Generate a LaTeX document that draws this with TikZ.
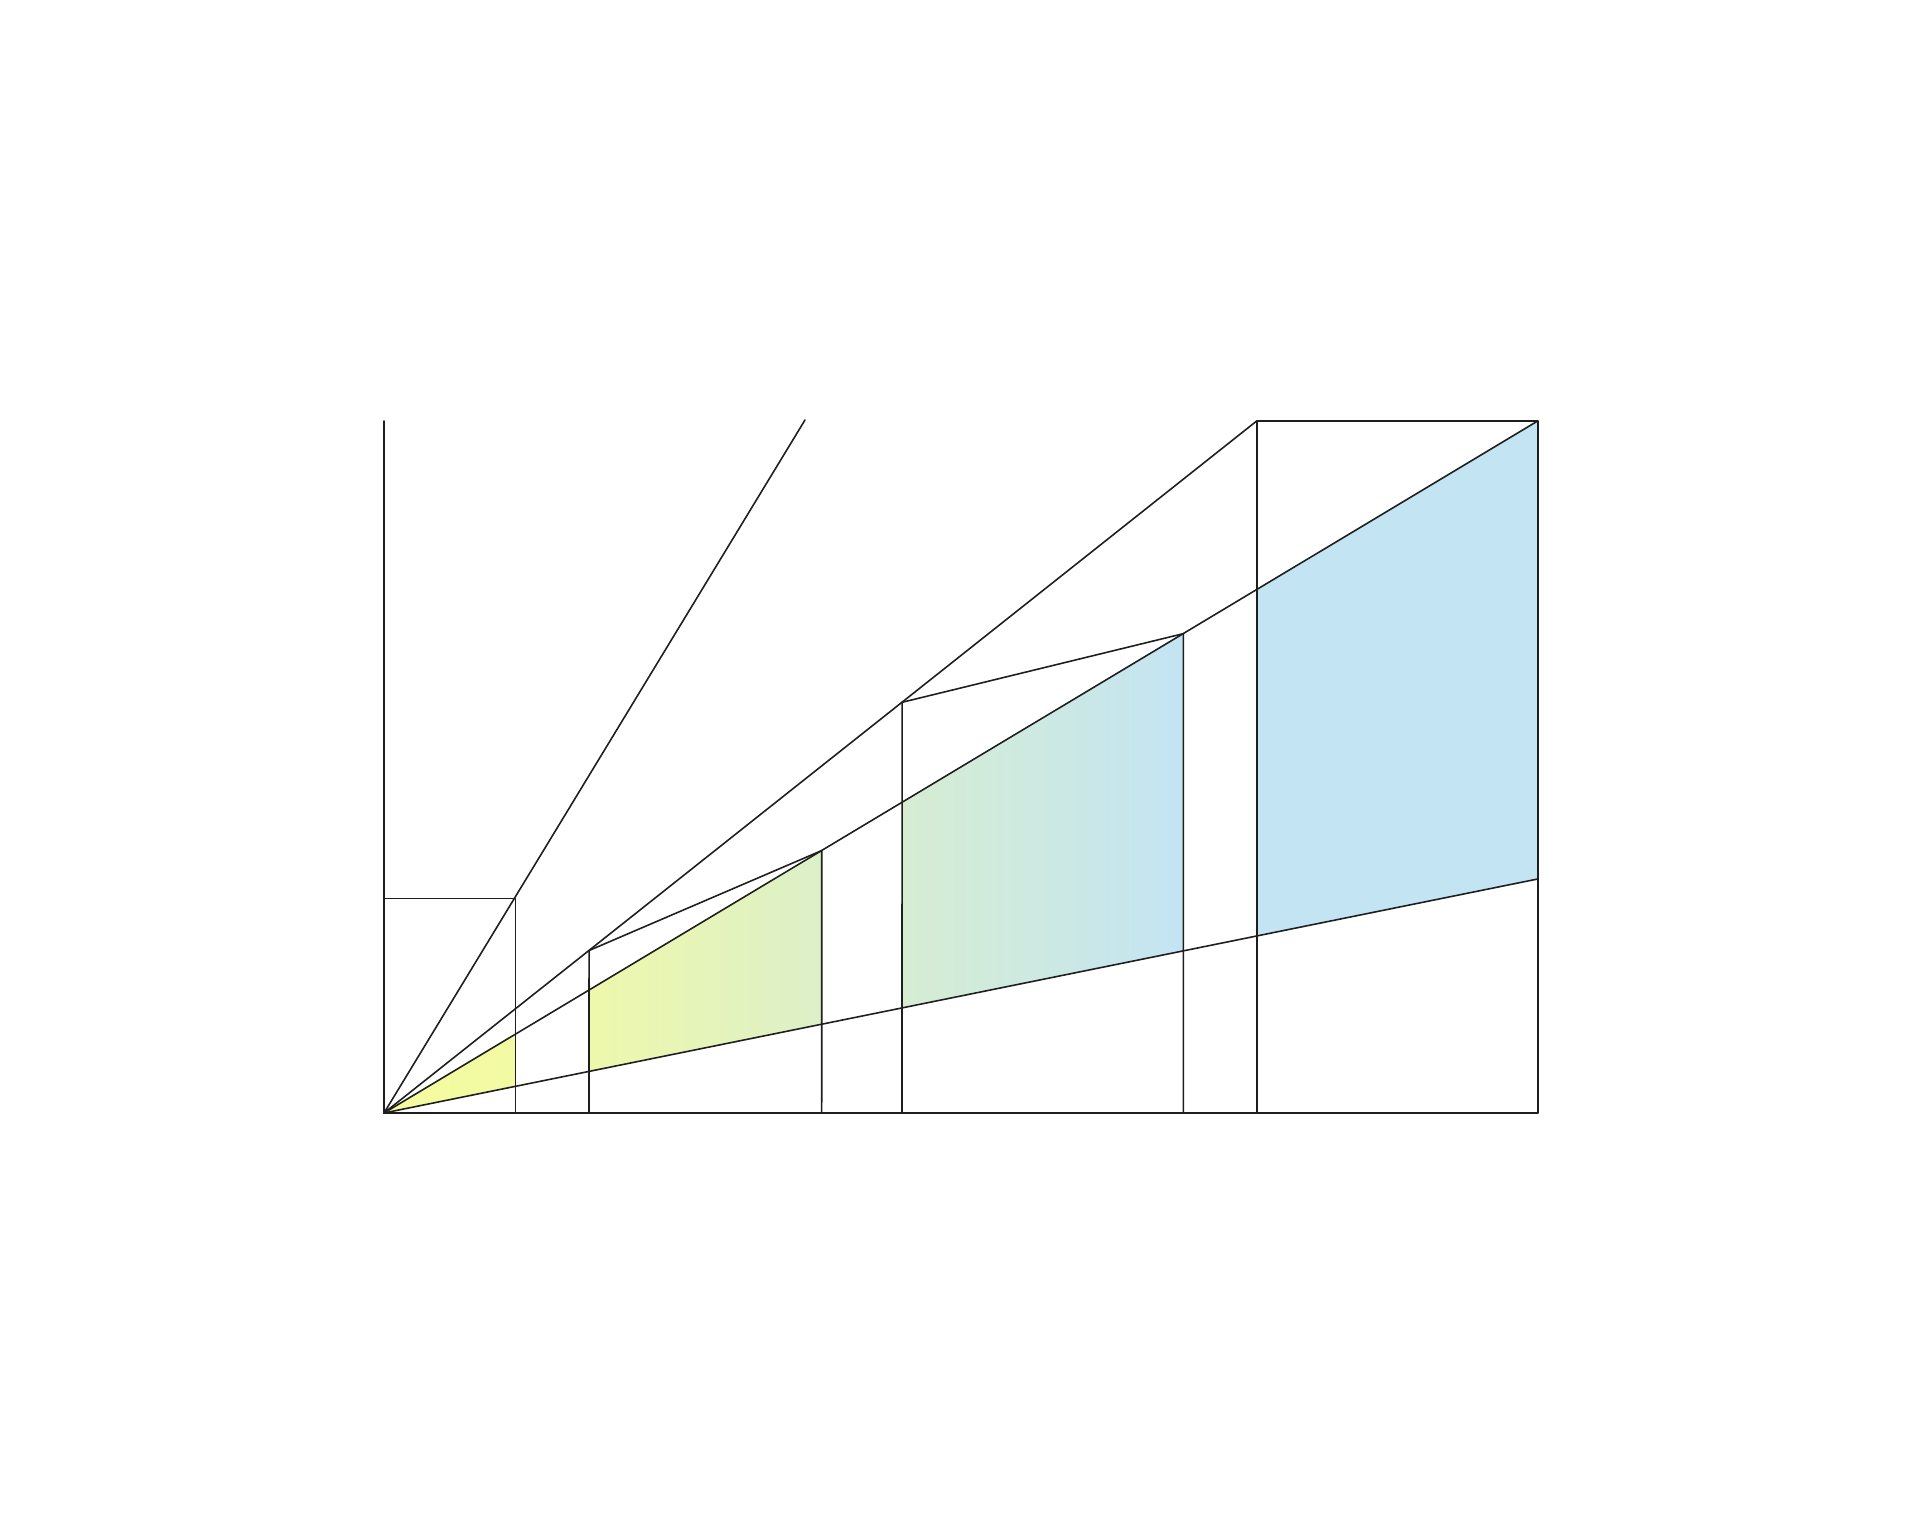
\documentclass[tikz,border=0pt]{standalone}
\usetikzlibrary{calc}
\definecolor{yel}{RGB}{245,252,158}
\definecolor{blu}{RGB}{195,228,243}
\definecolor{mixA}{RGB}{242,250,164}
\definecolor{mixB}{RGB}{238,248,171}
\definecolor{mixC}{RGB}{220,240,200}
\definecolor{mixD}{RGB}{214,237,210}
\definecolor{ink}{RGB}{30,30,30}
\begin{document}
\begin{tikzpicture}[x=0.01cm,y=-0.01cm,
  edge/.style={draw=ink,line width=0.45pt,line cap=round,line join=round}]
\useasboundingbox (0,0) rectangle (1920,1534);
% key points
\coordinate (O) at (384,1113);
\coordinate (V) at (384,421);
\coordinate (S) at (805,420);
\coordinate (B1) at (515.7,898.3);
\coordinate (B1L) at (384,898.3);
\coordinate (T4L) at (1256.7,421);
\coordinate (T4R) at (1537.7,421);
\coordinate (E) at (1537.7,879);
\coordinate (G) at (1537.7,1113);
% points on the rays at each vertical
\foreach \n/\x in {a/515.7,b/589,c/821.7,d/902,e/1183.3,f/1256.7} {
  \coordinate (\n-base) at (\x,1113);
  \coordinate (\n-two) at (intersection cs: first line={(O)--(T4L)}, second line={(\x,0)--(\x,1534)});
  \coordinate (\n-three) at (intersection cs: first line={(O)--(T4R)}, second line={(\x,0)--(\x,1534)});
  \coordinate (\n-low) at (intersection cs: first line={(O)--(E)}, second line={(\x,0)--(\x,1534)});
}
% coloured bands
\fill[left color=yel,right color=mixA] (O) -- (a-three) -- (a-low) -- cycle;
\fill[left color=mixB,right color=mixC] (b-three) -- (c-three) -- (c-low) -- (b-low) -- cycle;
\fill[left color=mixD,right color=blu] (d-three) -- (e-three) -- (e-low) -- (d-low) -- cycle;
\fill[blu] (f-three) -- (T4R) -- (E) -- (f-low) -- cycle;
% lines
\draw[edge] (V) -- (O) -- (G);
\draw[edge] (B1L) -- (B1) -- (a-base);
\draw[edge] (O) -- (S);
\draw[edge] (O) -- (T4L);
\draw[edge] (O) -- (T4R);
\draw[edge] (O) -- (E);
\draw[edge] (b-base) -- (b-two) -- (c-three) -- (c-base);
\draw[edge] (d-base) -- (d-two) -- (e-three) -- (e-base);
\draw[edge] (f-base) -- (T4L) -- (T4R) -- (G);
\end{tikzpicture}
\end{document}
